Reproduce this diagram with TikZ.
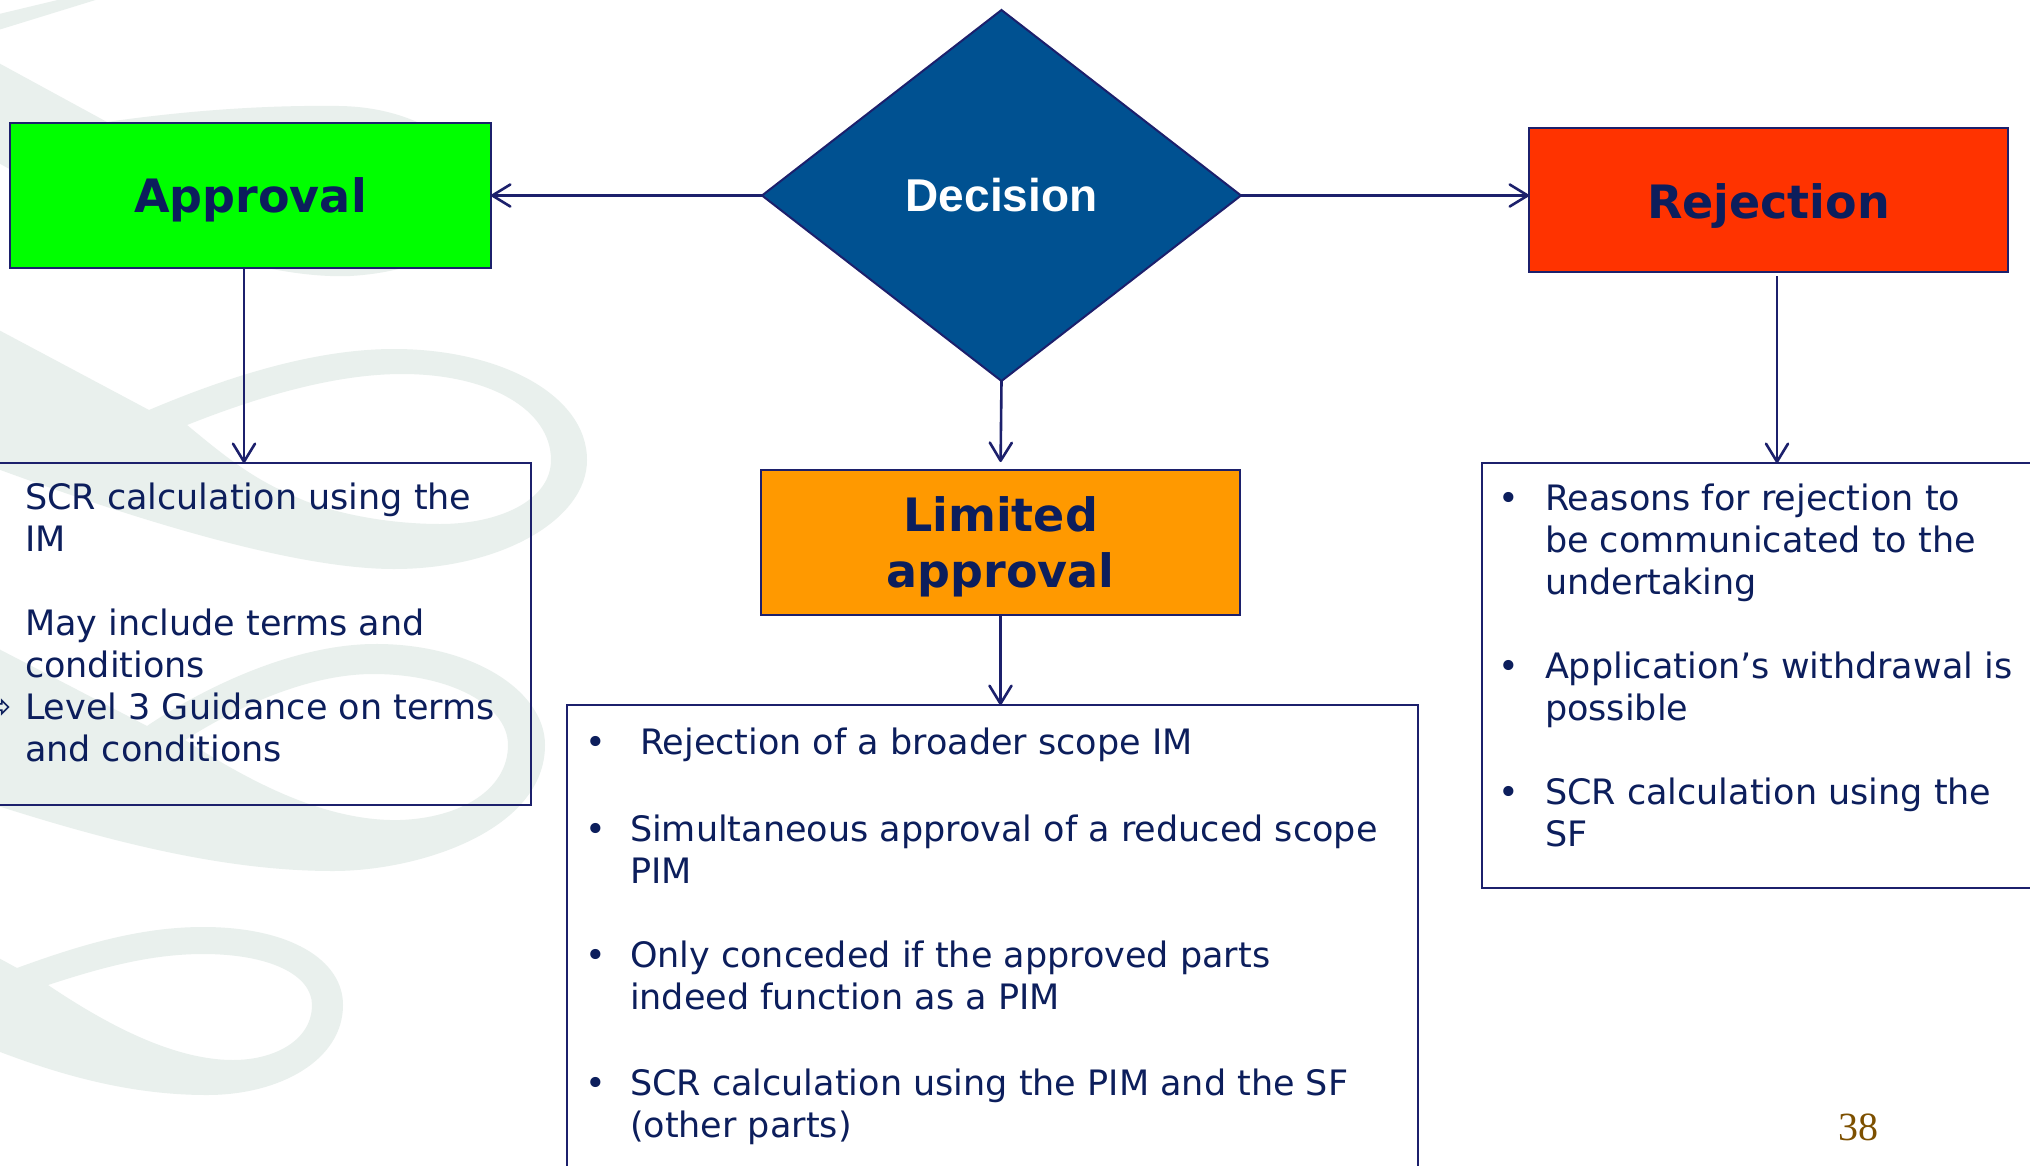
\documentclass[tikz,border=0pt]{standalone}
\usepackage{fontspec}
\setmainfont{DejaVu Sans}
\newfontfamily\arialfont{Liberation Sans}
\newfontfamily\timesfont{Liberation Serif}
\usetikzlibrary{shapes.geometric,arrows.meta}
\definecolor{navy}{RGB}{28,32,108}
\definecolor{txt}{RGB}{12,30,92}
\definecolor{swirl}{RGB}{233,240,237}
\definecolor{decblue}{RGB}{0,81,145}
\definecolor{appgreen}{RGB}{0,255,0}
\definecolor{rejred}{RGB}{255,51,0}
\definecolor{limorange}{RGB}{255,153,0}
\definecolor{pagebrown}{RGB}{125,80,0}
\newcommand{\mlines}[1]{\begin{tabular}[t]{@{}l@{}}#1\end{tabular}}
\begin{document}
\begin{tikzpicture}[x=1pt,y=-1pt,
  titlebox/.style={rectangle, draw=navy, line width=2.2pt, inner sep=0pt, outer sep=0pt,
    text=txt, text depth=0pt, font=\fontsize{46}{56}\selectfont\bfseries},
  textbox/.style={rectangle, draw=navy, line width=2.2pt, inner sep=0pt, outer sep=0pt},
  body/.style={anchor=base west, inner sep=0pt, outer sep=0pt, text=txt,
    font=\fontsize{35}{42}\selectfont},
  arr/.style={draw=navy, line width=2.6pt, -{Straight Barb[length=18pt,width=22pt,round]}},
  swirlfill/.style={fill=swirl, even odd rule}
]
\useasboundingbox (0,0) rectangle (2030,1165);
\fill[white] (0,0) rectangle (2030,1165);

% background swirls
\fill[swirl] (-5,15) -- (66,-2) -- (102,-2) -- (-5,31) -- cycle;
\fill[swirlfill] (-5,61) -- (107,122) .. controls (190,110) and (270,105) .. (339,106)
   .. controls (420,107) and (478,150) .. (480,195) .. controls (478,245) and (420,272) .. (350,276)
   .. controls (250,280) and (100,220) .. (-5,161) -- cycle
   (150,142) .. controls (220,132) and (290,130) .. (340,131) .. controls (410,132) and (455,160) .. (455,193)
   .. controls (455,228) and (410,250) .. (340,252) .. controls (270,253) and (200,180) .. (150,142) -- cycle;
\fill[swirlfill] (-5,328) -- (149,410) .. controls (220,380) and (310,349) .. (394,349)
   .. controls (500,349) and (587,395) .. (587,460) .. controls (587,520) and (500,569) .. (394,569)
   .. controls (300,569) and (150,525) .. (-5,468) -- cycle
   (187,425) .. controls (250,400) and (330,374) .. (402,374) .. controls (490,374) and (551,410) .. (551,460)
   .. controls (551,500) and (500,524) .. (440,524) .. controls (380,524) and (320,510) .. (290,494)
   .. controls (250,478) and (215,448) .. (187,425) -- cycle;
\fill[swirlfill] (-5,647) -- (147,726) .. controls (200,690) and (290,645) .. (373,644)
   .. controls (470,643) and (545,690) .. (545,745) .. controls (545,830) and (420,871) .. (333,871)
   .. controls (230,871) and (120,845) .. (-5,805) -- cycle
   (185,740) .. controls (240,705) and (310,674) .. (373,674) .. controls (450,674) and (508,705) .. (508,745)
   .. controls (508,790) and (460,818) .. (400,820) .. controls (320,822) and (240,775) .. (185,740) -- cycle;
\fill[swirlfill] (-5,956) -- (17,968) .. controls (80,945) and (140,927) .. (203,927)
   .. controls (290,927) and (343,960) .. (343,1005) .. controls (343,1060) and (280,1095) .. (207,1095)
   .. controls (130,1095) and (60,1075) .. (-5,1050) -- cycle
   (48,985) .. controls (100,968) and (150,954) .. (203,954) .. controls (270,954) and (312,975) .. (312,1005)
   .. controls (312,1040) and (275,1060) .. (233,1060) .. controls (170,1060) and (100,1020) .. (48,985) -- cycle;

% main nodes
\node[titlebox, fill=appgreen, minimum width=481pt, minimum height=145pt] (approval) at (250.5,195.5) {Approval};
\node[diamond, draw=navy, line width=2pt, fill=decblue, minimum width=479pt, minimum height=371pt,
  inner sep=0pt, outer sep=0pt, text=white, font=\arialfont\bfseries\fontsize{46}{56}\selectfont] (decision) at (1001.5,195.5) {Decision};
\node[titlebox, fill=rejred, minimum width=479pt, minimum height=144pt] (rejection) at (1768.5,200) {\raisebox{-2pt}{Rejection}};
\node[titlebox, fill=limorange, minimum width=479pt, minimum height=145pt, align=center] (limited) at (1000.5,542.5) {Limited\\approval};

% text boxes
\node[textbox, minimum width=551pt, minimum height=342pt] (leftbox) at (255.5,634) {};
\node[textbox, minimum width=851pt, minimum height=500pt] (midbox) at (992.5,955) {};
\node[textbox, minimum width=568pt, minimum height=425pt] (rightbox) at (1766,675.5) {};

% left box text
\node[body] (l1) at (25,509) {\mlines{SCR calculation using the\\IM}};
\node[body] (l2) at (25,635) {\mlines{May include terms and\\conditions\\Level 3 Guidance on terms\\and conditions}};
\node[body, anchor=base east] (larrow) at (12,718) {⇨};

% middle box text
\node[body] (mb1) at (585,754) {•};
\node[body] (m1) at (640,754) {Rejection of a broader scope IM};
\node[body] (mb2) at (585,841) {•};
\node[body] (m2) at (630,841) {\mlines{Simultaneous approval of a reduced scope\\PIM}};
\node[body] (mb3) at (585,967) {•};
\node[body] (m3) at (630,967) {\mlines{Only conceded if the approved parts\\indeed function as a PIM}};
\node[body] (mb4) at (585,1095) {•};
\node[body] (m4) at (630,1095) {\mlines{SCR calculation using the PIM and the SF\\(other parts)}};

% right box text
\node[body] (rb1) at (1498,510) {•};
\node[body] (r1) at (1545,510) {\mlines{Reasons for rejection to\\be communicated to the\\undertaking}};
\node[body] (rb2) at (1498,678) {•};
\node[body] (r2) at (1545,678) {\mlines{Application’s withdrawal is\\possible}};
\node[body] (rb3) at (1498,804) {•};
\node[body] (r3) at (1545,804) {\mlines{SCR calculation using the\\SF}};

% page number
\node[anchor=base west, inner sep=0pt, text=pagebrown, font=\timesfont\fontsize{40}{48}\selectfont] (pagenum) at (1838,1140) {38};

% connectors
\coordinate (ax) at (244,0);
\coordinate (rx) at (1777,0);
\draw[arr] (decision.west) -- (decision.west -| approval.east);
\draw[arr] (decision.east) -- (decision.east -| rejection.west);
\draw[arr, shorten >=8pt] (decision.south) -- (limited.north);
\draw[arr] (approval.south -| ax) -- (leftbox.north -| ax);
\draw[arr] (limited.south) -- (midbox.north -| limited.south);
\draw[arr, shorten <=4pt] (rejection.south -| rx) -- (rightbox.north -| rx);
\end{tikzpicture}
\end{document}
